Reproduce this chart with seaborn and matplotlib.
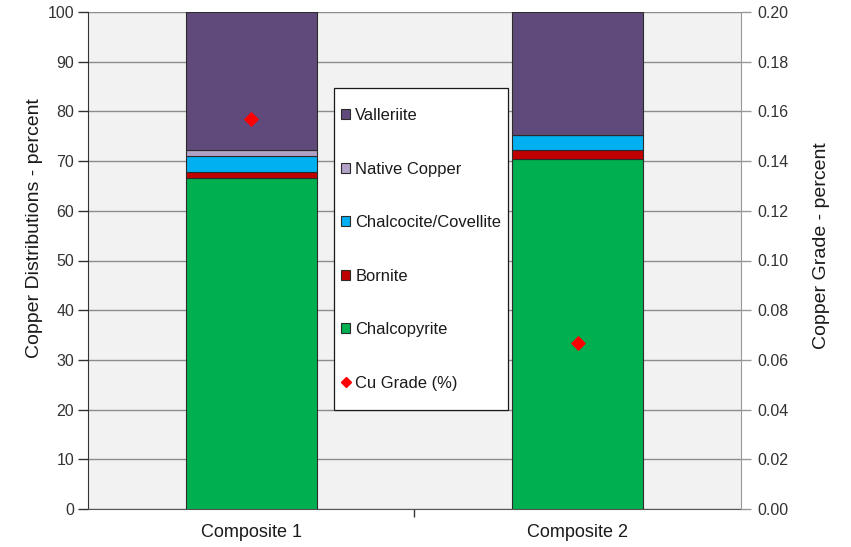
import matplotlib
matplotlib.use("Agg")
import matplotlib.pyplot as plt
from matplotlib.patches import Patch, Rectangle
from matplotlib.lines import Line2D
import seaborn as sns
import pandas as pd

sns.set_style("white")
plt.rcParams["font.family"] = ["Liberation Sans", "DejaVu Sans"]

composites = ["Composite 1", "Composite 2"]
chalcopyrite = [66.7, 70.4]
bornite = [1.1, 1.8]
chalcocite_covellite = [3.2, 3.0]
native_copper = [1.3, 0.0]
valleriite = [27.7, 24.8]
cu_grade = [0.157, 0.067]

minerals = ["Chalcopyrite", "Bornite", "Chalcocite/Covellite", "Native Copper", "Valleriite"]
values = [chalcopyrite, bornite, chalcocite_covellite, native_copper, valleriite]
colors = ["#00b050", "#c00000", "#00b0f0", "#b3a2c7", "#604a7b"]

df = pd.DataFrame({"Composite": composites})
for m, v in zip(minerals, values):
    df[m] = v

fig = plt.figure(figsize=(8.51, 5.47), dpi=100)
ax = fig.add_axes([88 / 851, 38 / 547, 653 / 851, 497 / 547])
ax.set_facecolor("#f2f2f2")

# stacked mineral distribution bars
bottom = [0.0, 0.0]
for m, c in zip(minerals, colors):
    sns.barplot(data=df, x="Composite", y=m, color=c, width=0.4, bottom=bottom,
                edgecolor="#2b2b2b", linewidth=0.8, saturation=1, ax=ax, zorder=3)
    bottom = [b + v for b, v in zip(bottom, df[m])]

ax.set_ylim(0, 100)
ax.set_xlim(-0.5, 1.5)
ax.set_yticks(range(0, 101, 10))
ax.yaxis.grid(True, color="#8c8c8c", linewidth=1.0, zorder=0)
ax.set_axisbelow(True)
ax.set_xlabel("")
ax.set_ylabel("Copper Distributions - percent", fontsize=14, color="#1a1a1a")
ax.yaxis.set_label_coords(-0.069, 0.565)
ax.tick_params(axis="y", length=7, width=1, color="#333333", labelsize=11.5,
               labelcolor="#333333", pad=3, left=True)
ax.tick_params(axis="x", length=0, labelsize=13, labelcolor="#1a1a1a", pad=11)
ax.set_xticks([0.5], minor=True)
ax.tick_params(axis="x", which="minor", length=6, width=1, color="#333333", bottom=True)
ax.spines["top"].set_visible(False)
ax.spines["right"].set_visible(False)
ax.spines["left"].set_color("#333333")
ax.spines["bottom"].set_color("#555555")

# copper grade on the secondary axis
ax2 = ax.twinx()
sns.scatterplot(x=[0, 1], y=cu_grade, marker="D", color="#ff0000", s=60,
                edgecolor="#ff0000", linewidth=0, ax=ax2, zorder=5)
ax2.set_ylim(0, 0.20)
ax2.set_yticks([i / 100 for i in range(0, 21, 2)])
ax2.set_yticklabels([f"{i / 100:.2f}" for i in range(0, 21, 2)])
ax2.set_ylabel("Copper Grade - percent", fontsize=14, color="#1a1a1a")
ax2.yaxis.set_label_coords(1.110, 0.529)
ax2.tick_params(axis="y", length=7, width=1, color="#999999", labelsize=11.5,
                labelcolor="#333333", pad=5, right=True)
for side in ["top", "left", "bottom"]:
    ax2.spines[side].set_visible(False)
ax2.spines["right"].set_color("#999999")
ax2.spines["right"].set_visible(True)
ax2.set_xlim(-0.5, 1.5)

# legend box
box = Rectangle((334 / 851, 1 - 410 / 547), (508 - 334) / 851, (410 - 88) / 547,
                transform=fig.transFigure, facecolor="white", edgecolor="#1a1a1a",
                linewidth=0.9, zorder=9)
fig.patches.append(box)

handles = [Patch(facecolor=c, edgecolor="#2b2b2b", linewidth=0.8) for c in colors][::-1]
labels = minerals[::-1]
handles.append(Line2D([], [], marker="D", color="#ff0000", linestyle="none", markersize=5.5))
labels.append("Cu Grade (%)")
leg = fig.legend(handles, labels, loc="upper left",
                 bbox_to_anchor=(341 / 851, 1 - 108 / 547),
                 frameon=False, fontsize=11.9,
                 handlelength=0.55, handleheight=0.55, handletextpad=0.32,
                 labelspacing=2.33, borderpad=0.0, borderaxespad=0)
leg.set_zorder(10)
for t in leg.get_texts():
    t.set_color("#1a1a1a")

fig.savefig("out.png", dpi=100)
